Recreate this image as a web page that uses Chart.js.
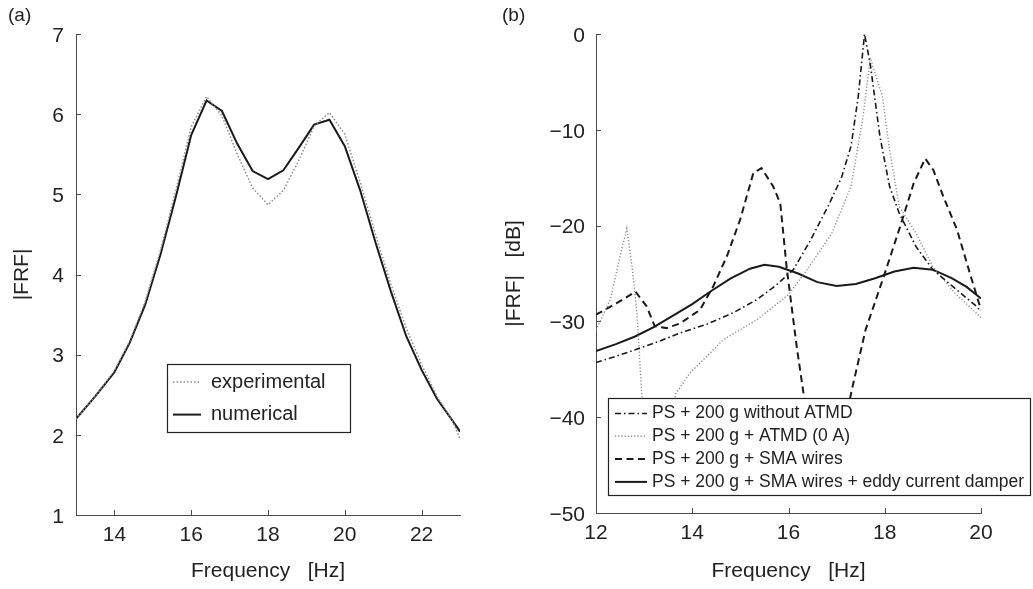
<!DOCTYPE html>
<html>
<head>
<meta charset="utf-8">
<script src="https://cdn.jsdelivr.net/npm/chart.js@4.4.1/dist/chart.umd.min.js"></script>
<style>
  body { margin: 0; background: #fff; }
  #page { position: relative; width: 1033px; height: 589px; overflow: hidden; font-family: "Liberation Sans", Arial, sans-serif; color: #222; }
  canvas { position: absolute; top: 0; }
  #chartA { left: 0; }
  #chartB { left: 496px; }
  .tag { position: absolute; top: 4px; font-size: 19px; }
</style>
</head>
<body>
<div id="page">
  <canvas id="chartA" width="496" height="589"></canvas>
  <canvas id="chartB" width="537" height="589"></canvas>
  <div class="tag" style="left:8px">(a)</div>
  <div class="tag" style="left:502px">(b)</div>
</div>
<script>
/* global Chart */

// (a) measured vs computed |FRF|
const freqA = [13.0, 13.5, 14.0, 14.4, 14.8, 15.2, 15.6, 16.0, 16.4, 16.8, 17.2, 17.6, 18.0, 18.4, 18.8, 19.2, 19.6, 20.0, 20.4, 20.8, 21.2, 21.6, 22.0, 22.4, 22.8, 23.0];
const experimental = [2.2, 2.48, 2.8, 3.17, 3.66, 4.3, 5.05, 5.84, 6.22, 5.98, 5.5, 5.08, 4.87, 5.05, 5.42, 5.85, 6.02, 5.75, 5.15, 4.5, 3.88, 3.33, 2.88, 2.48, 2.18, 1.95];
const numerical = [2.2, 2.48, 2.78, 3.15, 3.62, 4.25, 4.97, 5.74, 6.17, 6.04, 5.63, 5.29, 5.19, 5.30, 5.58, 5.87, 5.93, 5.60, 5.05, 4.40, 3.79, 3.23, 2.81, 2.45, 2.18, 2.04];
const ticksXA = [14, 16, 18, 20, 22];
const ticksYA = [1, 2, 3, 4, 5, 6, 7];

// (b) |FRF| in dB, four configurations
const freqNoAtmd = [12.0, 12.5, 12.9, 13.3, 13.75, 14.3, 14.85, 15.35, 15.75, 16.1, 16.45, 16.85, 17.1, 17.3, 17.45, 17.58, 17.7, 17.9, 18.1, 18.3, 18.65, 19.0, 19.4, 19.9, 20.0];
const dbNoAtmd = [-34.3, -33.5, -32.8, -32.1, -31.2, -30.3, -29.1, -27.7, -26.2, -24.6, -21.6, -17.7, -15.0, -11.7, -6.5, 0, -3.2, -10.7, -15.9, -18.7, -22.2, -24.6, -26.3, -28.4, -29.0];
const freqAtmd0 = [12.0, 12.3, 12.5, 12.64, 12.75, 12.85, 12.95, 13.1, 13.3, 13.5, 13.65, 13.95, 14.65, 15.35, 16.0, 16.4, 16.9, 17.3, 17.55, 17.7, 17.95, 18.1, 18.3, 18.65, 19.0, 19.45, 20.0];
const dbAtmd0 = [-30.9, -27.7, -23.2, -20.3, -24.3, -29.1, -37.5, -43, -46, -43, -37.6, -35.4, -31.9, -29.8, -27.2, -24.5, -20.8, -15.9, -8.6, -2.5, -6.5, -12.1, -18.0, -20.8, -24.3, -27.0, -29.6];
const freqSma = [12.0, 12.43, 12.82, 13.05, 13.22, 13.47, 13.75, 14.16, 14.44, 14.72, 15.0, 15.27, 15.44, 15.68, 15.83, 15.96, 16.17, 16.32, 16.5, 16.8, 17.1, 17.3, 17.6, 17.98, 18.32, 18.6, 18.84, 19.01, 19.22, 19.5, 19.77, 20.0];
const dbSma = [-29.3, -28.1, -26.9, -28.4, -30.5, -30.7, -30.2, -28.8, -26.3, -23.2, -19.3, -14.5, -14.0, -15.9, -17.7, -24.3, -32.6, -37.8, -43, -46, -43, -37.5, -30.9, -25.3, -20.1, -15.6, -13.0, -14.2, -17.0, -20.4, -25.0, -28.8];
const freqEddy = [12.0, 12.4, 12.8, 13.2, 13.6, 14.0, 14.4, 14.8, 15.2, 15.5, 15.8, 16.2, 16.6, 17.0, 17.4, 17.8, 18.2, 18.6, 19.0, 19.4, 19.7, 20.0];
const dbEddy = [-33.1, -32.4, -31.6, -30.6, -29.4, -28.2, -26.8, -25.5, -24.5, -24.1, -24.3, -25.0, -25.9, -26.3, -26.1, -25.5, -24.8, -24.4, -24.6, -25.5, -26.4, -27.6];
const ticksXB = [12, 14, 16, 18, 20];
const ticksYB = [0, -10, -20, -30, -40, -50];

const FONT = '"Liberation Sans", Arial, sans-serif';
Chart.defaults.font.family = FONT;
Chart.defaults.color = '#222';

const pts = (xs, ys) => xs.map((x, i) => ({ x: x, y: ys[i] }));
const minus = v => String(v).replace('-', '\u2212');

// MATLAB-like tick marks pointing into the plot
const inwardTicks = {
  id: 'inwardTicks',
  afterDraw(chart) {
    const { ctx, chartArea: a, scales } = chart;
    ctx.save();
    ctx.strokeStyle = '#4a4a4a';
    ctx.lineWidth = 1;
    ctx.beginPath();
    scales.x.ticks.forEach(t => {
      const px = Math.round(scales.x.getPixelForValue(t.value)) + 0.5;
      ctx.moveTo(px, a.bottom);
      ctx.lineTo(px, a.bottom - 5);
    });
    scales.y.ticks.forEach(t => {
      const py = Math.round(scales.y.getPixelForValue(t.value)) + 0.5;
      ctx.moveTo(a.left, py);
      ctx.lineTo(a.left + 5, py);
    });
    ctx.stroke();
    ctx.restore();
  }
};

// boxed legend drawn over the data, like the original figure
const boxLegend = {
  id: 'boxLegend',
  afterDatasetsDraw(chart, args, o) {
    const ctx = chart.ctx;
    ctx.save();
    ctx.fillStyle = '#fff';
    ctx.fillRect(o.left, o.top, o.width, o.height);
    ctx.strokeStyle = '#222';
    ctx.lineWidth = 1.2;
    ctx.strokeRect(o.left + 0.5, o.top + 0.5, o.width, o.height);
    ctx.font = o.fontSize + 'px ' + FONT;
    ctx.textBaseline = 'middle';
    chart.data.datasets.forEach((ds, i) => {
      const y = o.firstRow + i * o.rowGap;
      ctx.setLineDash(ds.borderDash || []);
      ctx.strokeStyle = ds.borderColor;
      ctx.lineWidth = ds.borderWidth;
      ctx.beginPath();
      ctx.moveTo(o.left + o.sampleFrom, y);
      ctx.lineTo(o.left + o.sampleTo, y);
      ctx.stroke();
      ctx.setLineDash([]);
      ctx.fillStyle = '#222';
      ctx.fillText(ds.label, o.left + o.textAt, y);
    });
    ctx.restore();
  }
};

function axis(min, max, ticks, title, size, titlePad, labelPad, isX) {
  return {
    type: 'linear',
    min: min,
    max: max,
    afterBuildTicks: s => { s.ticks = ticks.map(v => ({ value: v })); },
    afterFit: s => { if (isX) s.height = size; else s.width = size; },
    grid: { display: false, drawTicks: false },
    border: { display: true, color: '#4a4a4a', width: 1 },
    ticks: { font: { size: 21 }, color: '#222', padding: labelPad, labelOffset: isX ? 0 : 2, maxRotation: 0, autoSkip: false, callback: minus },
    title: { display: true, text: title, font: { size: 21 }, color: '#222', padding: titlePad }
  };
}

new Chart(document.getElementById('chartA'), {
  type: 'line',
  data: {
    datasets: [{
      label: 'experimental',
      data: pts(freqA, experimental),
      borderColor: '#8a8a8a',
      borderWidth: 1.5,
      borderDash: [1.5, 2]
    }, {
      label: 'numerical',
      data: pts(freqA, numerical),
      borderColor: '#1a1a1a',
      borderWidth: 2
    }]
  },
  options: {
    responsive: false,
    animation: false,
    devicePixelRatio: 1,
    layout: { padding: { top: 34, right: 36, left: 0, bottom: 0 } },
    elements: { point: { radius: 0 }, line: { tension: 0 } },
    scales: {
      x: axis(13, 23, ticksXA, 'Frequency   [Hz]', 74, { top: 0, bottom: 5 }, 8, true),
      y: axis(1, 7, ticksYA, '|FRF|', 76, { top: 10, bottom: 0 }, 12, false)
    },
    plugins: {
      legend: { display: false },
      tooltip: { enabled: false },
      boxLegend: { left: 167, top: 364, width: 183, height: 68, fontSize: 20, firstRow: 382, rowGap: 32.6, sampleFrom: 6, sampleTo: 34, textAt: 44 }
    }
  },
  plugins: [inwardTicks, boxLegend]
});

new Chart(document.getElementById('chartB'), {
  type: 'line',
  data: {
    datasets: [{
      label: 'PS + 200 g without ATMD',
      data: pts(freqNoAtmd, dbNoAtmd),
      borderColor: '#1a1a1a',
      borderWidth: 1.6,
      borderDash: [6, 3, 1.5, 3]
    }, {
      label: 'PS + 200 g + ATMD (0 A)',
      data: pts(freqAtmd0, dbAtmd0),
      borderColor: '#8a8a8a',
      borderWidth: 1.4,
      borderDash: [1.2, 2]
    }, {
      label: 'PS + 200 g + SMA wires',
      data: pts(freqSma, dbSma),
      borderColor: '#1a1a1a',
      borderWidth: 2,
      borderDash: [7, 4.5]
    }, {
      label: 'PS + 200 g + SMA wires + eddy current damper',
      data: pts(freqEddy, dbEddy),
      borderColor: '#1a1a1a',
      borderWidth: 2
    }]
  },
  options: {
    responsive: false,
    animation: false,
    devicePixelRatio: 1,
    layout: { padding: { top: 34, right: 52, left: 0, bottom: 0 } },
    elements: { point: { radius: 0 }, line: { tension: 0 } },
    scales: {
      x: axis(12, 20, ticksXB, 'Frequency   [Hz]', 76, { top: 0, bottom: 5 }, 8, true),
      y: axis(-50, 0, ticksYB, '|FRF|   [dB]', 100, { top: 6, bottom: 0 }, 11, false)
    },
    plugins: {
      legend: { display: false },
      tooltip: { enabled: false },
      boxLegend: { left: 112, top: 398, width: 422, height: 97, fontSize: 17.5, firstRow: 413.5, rowGap: 22.8, sampleFrom: 7, sampleTo: 39, textAt: 44 }
    }
  },
  plugins: [inwardTicks, boxLegend]
});
</script>
</body>
</html>
